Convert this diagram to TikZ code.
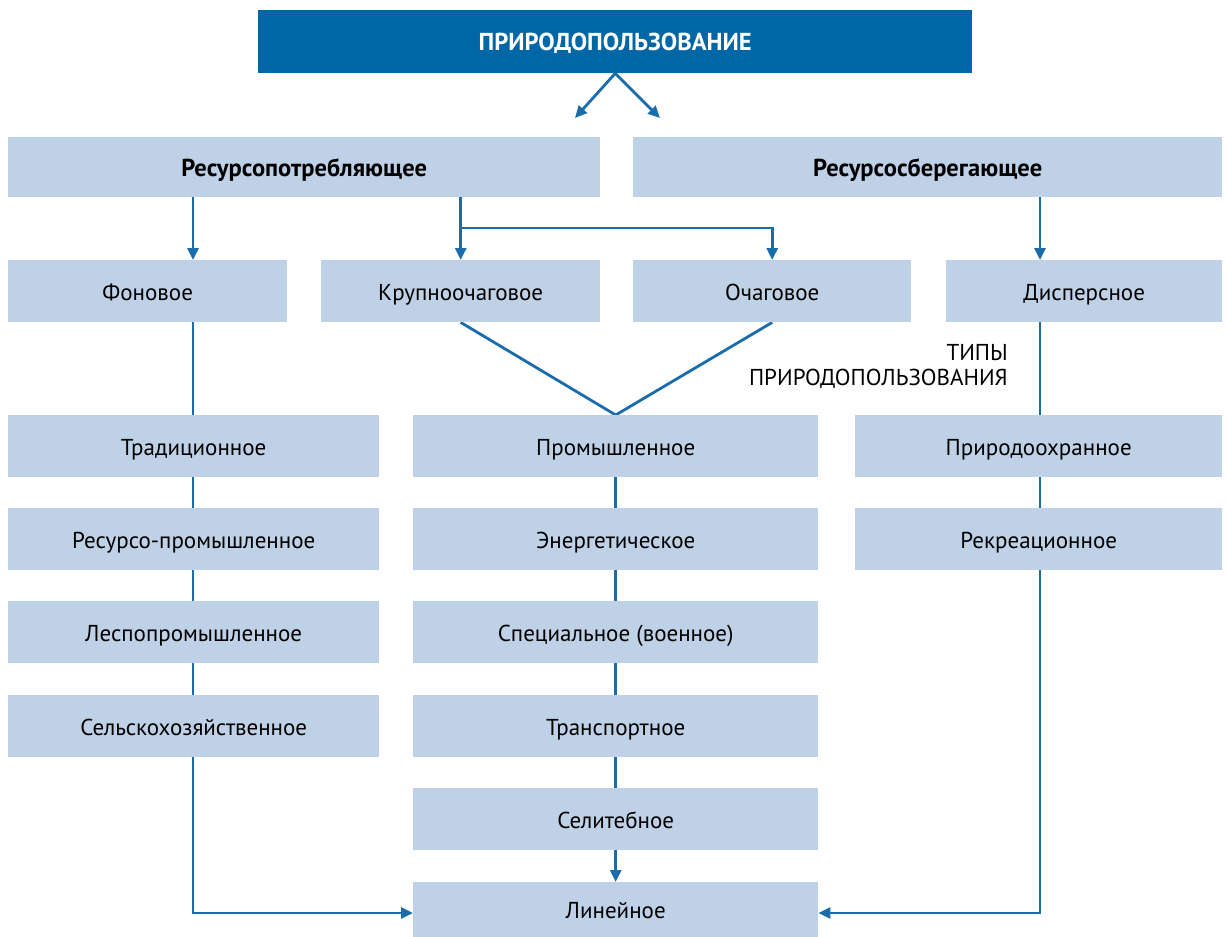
\documentclass[tikz,border=0pt]{standalone}
\usepackage{fontspec}
\setmainfont{PT Sans}
\usetikzlibrary{arrows.meta,backgrounds}
\definecolor{dblue}{HTML}{0067A6}
\definecolor{lblue}{HTML}{BFD1E6}
\definecolor{lcol}{HTML}{1A6DAA}
\tikzset{
  box/.style={fill=lblue, draw=none, inner sep=0pt, anchor=north west, text height=18pt, text depth=0pt, font=\fontsize{23}{26}\selectfont},
  hbox/.style={box, font=\fontsize{24.5}{28}\selectfont\bfseries},
  topbox/.style={fill=dblue, text=white, draw=none, inner sep=0pt, anchor=north west, text height=18pt, text depth=0pt, font=\fontsize{24.5}{28}\selectfont\bfseries},
  conn/.style={draw=lcol, line width=2.8pt},
  arr/.style={conn, -{Triangle[length=12pt,width=11pt]}},
}
\begin{document}
\begin{tikzpicture}[x=1pt,y=-1pt]
\useasboundingbox (0,0) rectangle (1227,937);
\node[topbox, minimum width=714pt, minimum height=63pt] (top) at (258,10) {ПРИРОДОПОЛЬЗОВАНИЕ};
\node[hbox, minimum width=592pt, minimum height=60pt] (L) at (8,137) {Ресурсопотребляющее};
\node[hbox, minimum width=589pt, minimum height=60pt] (R) at (633,137) {Ресурсосберегающее};
\node[box, minimum width=279pt, minimum height=62pt] (fon) at (8,260) {Фоновое};
\node[box, minimum width=279pt, minimum height=62pt] (kr) at (321,260) {Крупноочаговое};
\node[box, minimum width=278pt, minimum height=62pt] (och) at (633,260) {Очаговое};
\node[box, minimum width=276pt, minimum height=62pt] (disp) at (946,260) {Дисперсное};
\node[box, minimum width=371pt, minimum height=62pt] (trad) at (8,415) {Традиционное};
\node[box, minimum width=371pt, minimum height=62pt] (resp) at (8,508) {Ресурсо-промышленное};
\node[box, minimum width=371pt, minimum height=62pt] (lesp) at (8,601) {Леспопромышленное};
\node[box, minimum width=371pt, minimum height=62pt] (selh) at (8,695) {Сельскохозяйственное};
\node[box, minimum width=405pt, minimum height=62pt] (prom) at (413,415) {Промышленное};
\node[box, minimum width=405pt, minimum height=62pt] (energ) at (413,508) {Энергетическое};
\node[box, minimum width=405pt, minimum height=62pt] (spec) at (413,601) {Специальное (военное)};
\node[box, minimum width=405pt, minimum height=62pt] (trans) at (413,695) {Транспортное};
\node[box, minimum width=405pt, minimum height=62pt] (selit) at (413,788) {Селитебное};
\node[box, minimum width=405pt, minimum height=55pt] (lin) at (413,882) {Линейное};
\node[box, minimum width=367pt, minimum height=62pt] (prir) at (855,415) {Природоохранное};
\node[box, minimum width=367pt, minimum height=62pt] (rekr) at (855,508) {Рекреационное};
\node[anchor=north east, align=right, inner sep=0pt, font=\fontsize{23}{25}\selectfont] (types) at (1008,344) {ТИПЫ\\ПРИРОДОПОЛЬЗОВАНИЯ};
\coordinate (a1) at (575,118);
\coordinate (a2) at (660,118);
\coordinate (xl) at (193,0);
\coordinate (xr) at (1040,0);
\coordinate (j1) at (460.5,228);
\coordinate (bl) at (193,913);
\coordinate (br) at (1040,913);
\begin{scope}[on background layer]
\draw[arr] (top.south) -- (a1);
\draw[arr] (top.south) -- (a2);
\draw[arr] (L.south -| xl) -- (fon.north -| xl);
\draw[arr] (L.south -| kr.north) -- (kr.north);
\draw[arr] (j1) -| (och.north);
\draw[arr] (R.south -| xr) -- (disp.north -| xr);
\draw[conn] (kr.south) -- (prom.north);
\draw[conn] (och.south) -- (prom.north);
\draw[conn] (prom.north) -- (selit.south);
\draw[arr] (selit.south) -- (lin.north);
\draw[arr, line join=miter] (fon.south -| xl) -- (bl) -- (bl -| lin.west);
\draw[arr, line join=miter] (disp.south -| xr) -- (br) -- (br -| lin.east);
\end{scope}
\end{tikzpicture}
\end{document}
